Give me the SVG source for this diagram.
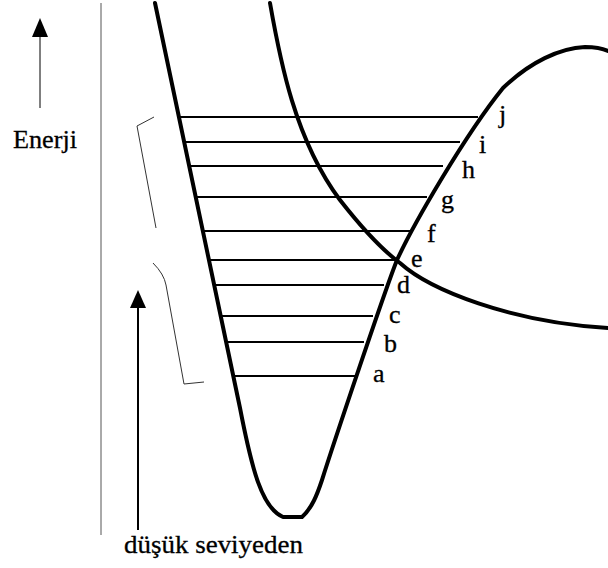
<svg xmlns="http://www.w3.org/2000/svg" width="608" height="568" viewBox="0 0 608 568">
<style>
.curve{fill:none;stroke:#000;stroke-width:4;stroke-linejoin:round;stroke-linecap:round}
.lvl{stroke:#000;stroke-width:1.8}
.thin{fill:none;stroke:#333;stroke-width:1}
.lbl{font-family:"Liberation Serif","Times New Roman",serif;font-size:26px;fill:#000;stroke:#000;stroke-width:0.3}
</style>
<rect width="608" height="568" fill="#fff"/>
<g id="axis">
<line x1="101" y1="3" x2="101" y2="535" stroke="#555" stroke-width="1"/>
</g>
<g id="energy-arrow">
<line x1="40" y1="36" x2="40" y2="108" stroke="#000" stroke-width="1"/>
<polygon points="40,18 32,37 48,37" fill="#000"/>
<text class="lbl" x="13" y="148" textLength="64" lengthAdjust="spacingAndGlyphs">Enerji</text>
</g>
<g id="low-level-arrow">
<line x1="138" y1="305" x2="138" y2="530" stroke="#000" stroke-width="2"/>
<polygon points="138,290 130,308 146,308" fill="#000"/>
<text class="lbl" x="124" y="553" textLength="179" lengthAdjust="spacingAndGlyphs">düşük seviyeden</text>
</g>
<g id="bracket">
<path class="thin" d="M154,117 L137,126 L156,228"/>
<path class="thin" d="M153,263 Q164,274 166,285 L184,384 L204,382"/>
</g>
<g id="levels">
<line class="lvl" x1="179" y1="117" x2="478" y2="117"/>
<line class="lvl" x1="184" y1="142" x2="460" y2="142"/>
<line class="lvl" x1="190" y1="166" x2="443" y2="166"/>
<line class="lvl" x1="196" y1="197" x2="427" y2="197"/>
<line class="lvl" x1="203" y1="231" x2="411" y2="231"/>
<line class="lvl" x1="209" y1="260" x2="397" y2="260"/>
<line class="lvl" x1="214" y1="285" x2="384" y2="285"/>
<line class="lvl" x1="221" y1="316" x2="373" y2="316"/>
<line class="lvl" x1="226" y1="342" x2="364" y2="342"/>
<line class="lvl" x1="233" y1="376" x2="355" y2="376"/>
</g>
<g id="ground-curve">
<path class="curve" d="M155,3 L240,408 C252,470 262,508 283,517 L302,517 C312,508 317,495 322,480 C333,445 385,290 397,260 C413,225 465,135 503,88 C530,62 560,48 585,47 C597,47 604,49 608,51"/>
</g>
<g id="excited-curve">
<path class="curve" d="M270,3 C280,60 295,140 340,200 C365,232 385,252 400,263 C430,290 510,322 608,328"/>
</g>
<g id="labels">
<text class="lbl" x="373" y="382">a</text>
<text class="lbl" x="384" y="352">b</text>
<text class="lbl" x="389" y="323">c</text>
<text class="lbl" x="397" y="293">d</text>
<text class="lbl" x="411" y="267">e</text>
<text class="lbl" x="427" y="242">f</text>
<text class="lbl" x="441" y="208">g</text>
<text class="lbl" x="462" y="178">h</text>
<text class="lbl" x="479" y="153">i</text>
<text class="lbl" x="499" y="123">j</text>
</g>
</svg>
